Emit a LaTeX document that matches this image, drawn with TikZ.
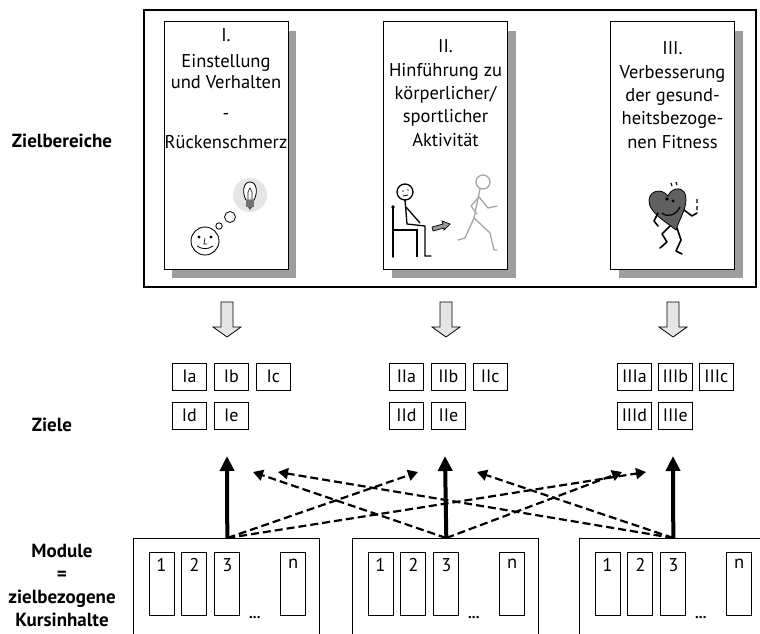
\documentclass[tikz,border=0pt]{standalone}
\usepackage{fontspec}
\setmainfont{PT Sans}
\usetikzlibrary{positioning,arrows.meta,shadows}

\tikzset{
  card/.style={draw, line width=1pt, fill=white, minimum width=124pt, minimum height=247pt, inner sep=0pt,
    drop shadow={shadow xshift=8pt, shadow yshift=-9pt, fill=black!38, opacity=1}},
  cardtext/.style={font=\fontsize{18.5}{23.4}\selectfont, align=center, anchor=north, inner sep=0pt},
  rowlabel/.style={font=\bfseries\fontsize{19}{23}\selectfont, align=center},
  goal/.style={draw, line width=0.9pt, minimum width=34pt, minimum height=27pt, inner xsep=3pt, inner ysep=0pt,
    font=\fontsize{18}{20}\selectfont},
  modbox/.style={draw, line width=1pt, minimum width=186pt, minimum height=140pt, anchor=north west, inner sep=0pt},
  slot/.style={draw, line width=0.9pt, minimum width=25pt, minimum height=63pt, inner sep=0pt,
    label={[anchor=north, inner sep=0pt, yshift=-7pt, font=\fontsize{18.5}{20}\selectfont]north:#1}},
  goalarrow/.style={line width=4pt, -{Triangle[width=14pt,length=15pt]}},
  crossarrow/.style={line width=2.2pt, dash pattern=on 8pt off 4pt, -{Triangle[width=11pt,length=10pt]}},
  hollow/.style={line width=0.8pt, fill=black!10}
}

\begin{document}
\begin{tikzpicture}[x=1pt,y=-1pt]
\useasboundingbox (0,0) rectangle (760,634);
\clip (0,0) rectangle (760,634);

% Zielbereiche
\draw[line width=1.5pt] (144,10) rectangle (756,287);
\node[card] (zbI) at (226,145.5) {};
\node[card] (zbII) at (445.5,145.5) {};
\node[card] (zbIII) at (672.5,145.5) {};

\node[cardtext] (tI) at ([yshift=-7pt]zbI.north)
  {I.\\[2pt]Einstellung\\[-2pt]und Verhalten\\[8pt]-\\[5pt]Rückenschmerz};
\node[cardtext] (tII) at ([yshift=-18pt]zbII.north)
  {II.\\Hinführung zu\\körperlicher/\\sportlicher\\Aktivität};
\node[cardtext] (tIII) at ([yshift=-20pt]zbIII.north)
  {III.\\Verbesserung\\der gesund-\\heitsbezoge-\\nen Fitness};

\node[rowlabel] (lZB) at (62,141) {Zielbereiche};
\node[rowlabel] (lZ) at (52,425) {Ziele};
\node[rowlabel, anchor=north] (lM) at (62,541) {Module\\=\\zielbezogene\\Kursinhalte};

% smiley with idea
\fill[black!10] (250,195) circle (17);
\draw[line width=0.9pt, fill=white] (205,241) circle (14);
\fill (199,237) circle (1.7) (211,237) circle (1.7);
\draw[line width=0.7pt] (205,238) -- (204,244) -- (207,244);
\draw[line width=0.8pt] (197,246) to[bend right=35] (213,246);
\draw[line width=0.8pt] (219,226) circle (3.2);
\draw[line width=0.8pt] (230,217) circle (5.5);
\draw[line width=0.8pt, fill=white] (246,200) .. controls (242,193) and (243,182) .. (250,182)
  .. controls (257,182) and (258,193) .. (254,200) -- cycle;
\draw[line width=0.6pt] (248,199) -- (248,192) -- (250,188) -- (252,192) -- (252,199);
\fill[black!55] (246,200) rectangle (254,207);
\fill[black!70] (248,207) -- (252,207) -- (250,210) -- cycle;

% sitting and running figure
\draw[line width=1.4pt, line cap=round] (393,207) -- (393,257);
\fill (393,207) circle (1.8);
\draw[line width=1.4pt] (393,230) -- (417,230) -- (417,257);
\draw[line width=1.3pt, fill=white] (405,192) circle (8);
\draw[line width=0.8pt] (402,191) -- (404,191) (407,190) -- (409,190) (403,196) -- (408,195);
\draw[line width=1.3pt, line cap=round] (405,200) -- (407,224) -- (425,226) -- (425,256) -- (431,256);
\draw[line width=1.3pt, line cap=round] (406,207) -- (420,223);
\draw[line width=0.7pt, fill=black!40] (432,227) -- (443,224) -- (442,221) -- (450,224) -- (444,230) -- (444,228) -- (433,231) -- cycle;
\begin{scope}[black!35, line width=1.3pt, line cap=round, line join=round]
  \draw (483,182) circle (7);
  \draw (480,189) -- (474,218);
  \draw (479,197) -- (471,206) -- (477,214);
  \draw (479,197) -- (488,208) -- (497,206);
  \draw (474,218) -- (465,238) -- (458,240);
  \draw (474,218) -- (490,233) -- (494,250) -- (497,250);
\end{scope}

% heart
\draw[line width=0.8pt, fill=black!62] (676,230) .. controls (666,222) and (648,212) .. (649,200)
  .. controls (650,190) and (662,188) .. (668,196)
  .. controls (672,186) and (686,186) .. (686,199)
  .. controls (686,210) and (679,220) .. (676,230) -- cycle;
\fill (667,199) circle (1.8) (673,201) circle (1.6);
\draw[line width=1.2pt] (662,213) .. controls (668,218) and (676,215) .. (680,207);
\draw[line width=1.6pt, line cap=round, line join=round] (670,226) -- (662,234) -- (667,242) -- (660,248);
\draw[line width=1.6pt, line cap=round, line join=round] (677,228) -- (681,240) -- (676,251) -- (682,254);
\draw[line width=1.6pt, line cap=round, line join=round] (658,213) -- (654,221) -- (658,226);
\draw[line width=1.6pt, line cap=round, line join=round] (684,210) -- (692,216) -- (697,213);
\draw[line width=1.2pt] (671,183) -- (672,186) (676,182) -- (677,185) (697,199) -- (697,203) (697,206) -- (697,210);

% Pfeile zu den Zielen
\foreach \x in {227,446,673}
  \draw[hollow] (\x-6,302) -- (\x+6,302) -- (\x+6,327) -- (\x+14,327) -- (\x,337) -- (\x-14,327) -- (\x-6,327) -- cycle;

% Ziele
\node[goal, anchor=west] (Ia) at (172,376.5) {Ia};
\node[goal, right=7pt of Ia] (Ib) {Ib};
\node[goal, right=7pt of Ib] (Ic) {Ic};
\node[goal, anchor=west] (Id) at (172,415.5) {Id};
\node[goal, right=7pt of Id] (Ie) {Ie};

\node[goal, anchor=west] (IIa) at (389,376.5) {IIa};
\node[goal, right=7pt of IIa] (IIb) {IIb};
\node[goal, right=7pt of IIb] (IIc) {IIc};
\node[goal, anchor=west] (IId) at (389,415.5) {IId};
\node[goal, right=7pt of IId] (IIe) {IIe};

\node[goal, anchor=west] (IIIa) at (617,376.5) {IIIa};
\node[goal, right=6pt of IIIa] (IIIb) {IIIb};
\node[goal, right=6pt of IIIb] (IIIc) {IIIc};
\node[goal, anchor=west] (IIId) at (617,415.5) {IIId};
\node[goal, right=6pt of IIId] (IIIe) {IIIe};

% Module
\node[modbox] (modI) at (133,538) {};
\node[modbox] (modII) at (352,538) {};
\node[modbox] (modIII) at (579,538) {};
\foreach \m in {I,II,III} {
  \node[slot=1] (s\m1) at ([xshift=28.5pt,yshift=-45.5pt]mod\m.north west) {};
  \node[slot=2, right=7pt of s\m1] (s\m2) {};
  \node[slot=3, right=7pt of s\m2] (s\m3) {};
  \node[slot=n, right=40pt of s\m3] (s\m n) {};
  \node[font=\bfseries\fontsize{15}{15}\selectfont, inner sep=0pt] (dots\m) at ([xshift=14.5pt,yshift=-2pt]s\m3.south east) {...};
}

% Verbindungen
\coordinate (oI) at (sI3 |- modI.north);
\coordinate (oII) at (sII3 |- modII.north);
\coordinate (oIII) at (sIII3 |- modIII.north);
\coordinate (gI) at (227,456);
\coordinate (gII) at (445,456);
\coordinate (gIII) at (673,456);
\draw[goalarrow] (oI) -- (gI);
\draw[goalarrow] (oII) -- (gII);
\draw[goalarrow] (oIII) -- (gIII);

\coordinate (xIa) at (253,472);
\coordinate (xIb) at (278,472);
\coordinate (xIIa) at (418,472);
\coordinate (xIIb) at (477,472);
\coordinate (xIIIa) at (622,472);
\coordinate (xIIIb) at (646,472);
\draw[crossarrow] (oI) -- (xIIa);
\draw[crossarrow] (oI) -- (xIIIb);
\draw[crossarrow] (oII) -- (xIa);
\draw[crossarrow] (oII) -- (xIIIa);
\draw[crossarrow] (oIII) -- (xIb);
\draw[crossarrow] (oIII) -- (xIIb);
\end{tikzpicture}
\end{document}
